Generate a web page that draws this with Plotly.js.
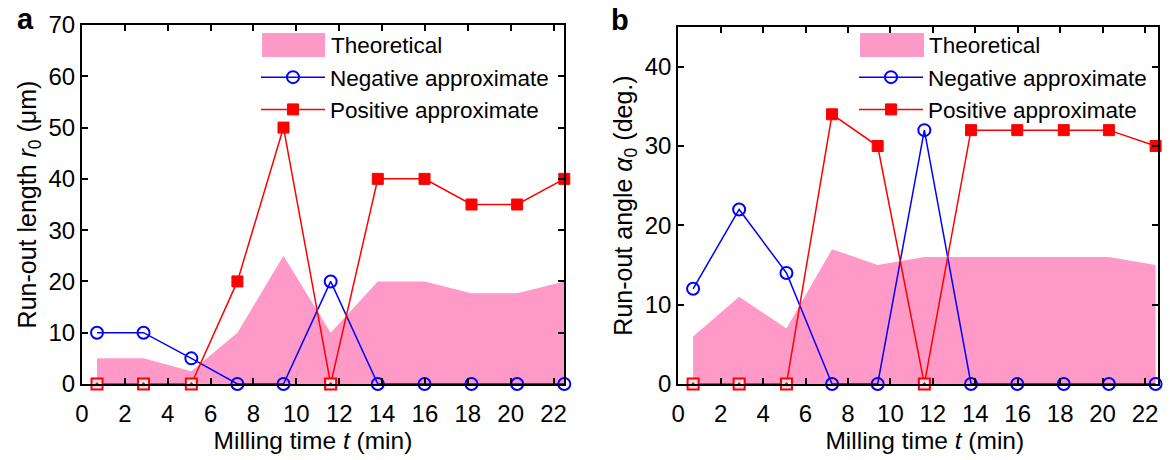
<!DOCTYPE html>
<html>
<head>
<meta charset="utf-8">
<script src="https://cdn.plot.ly/plotly-3.0.1.min.js"></script>
<style>html,body{margin:0;padding:0;background:#fff;}#chart{width:1170px;height:460px;}</style>
</head>
<body>
<div id="chart"></div>
<script>
// Milling time t (min)
const millingTime = [0.7, 2.87, 5.1, 7.25, 9.4, 11.6, 13.8, 15.98, 18.17, 20.3, 22.5];

// Panel a: run-out length r0 (μm)
const lengthTheoretical = [5, 5, 2.5, 10, 25, 10, 20, 20, 17.7, 17.7, 20];
const lengthNegative    = [10, 10, 5, 0, 0, 20, 0, 0, 0, 0, 0];
const lengthPositive    = [0, 0, 0, 20, 50, 0, 40, 40, 35, 35, 40];

// Panel b: run-out angle α0 (deg.)
const angleTheoretical = [6, 11, 7, 17, 15, 16, 16, 16, 16, 16, 15];
const angleNegative    = [12, 22, 14, 0, 0, 32, 0, 0, 0, 0, 0];
const anglePositive    = [0, 0, 0, 34, 30, 0, 32, 32, 32, 32, 30];

const xTicks = [0, 2, 4, 6, 8, 10, 12, 14, 16, 18, 20, 22];
const lengthTicks = [0, 10, 20, 30, 40, 50, 60, 70];
const angleTicks = [0, 10, 20, 30, 40];

const seriesNames = ['Theoretical', 'Negative approximate', 'Positive approximate'];
const panelLetters = ['a', 'b'];

const FONT = 'Liberation Sans, Arial, sans-serif';
const FS = 24;
const PINK = '#FF99C8';
const BLUE = '#0000FF';
const RED = '#FF0000';

function panelTraces(theo, neg, pos, xa, ya, legendId) {
  const zx = [], zy = [];
  pos.forEach((v, i) => { if (v === 0) { zx.push(millingTime[i]); zy.push(v); } });
  return [
    {
      x: millingTime, y: theo, xaxis: xa, yaxis: ya, showlegend: false,
      name: seriesNames[0], type: 'scatter', mode: 'lines',
      fill: 'tozeroy', fillcolor: PINK, line: {width: 0, color: PINK}
    },
    {
      x: millingTime, y: neg, xaxis: xa, yaxis: ya, legend: legendId,
      name: seriesNames[1], type: 'scatter', mode: 'lines+markers', cliponaxis: false,
      line: {color: BLUE, width: 1.5},
      marker: {symbol: 'circle-open', size: 12, color: BLUE, line: {width: 2, color: BLUE}}
    },
    {
      x: millingTime, y: pos, xaxis: xa, yaxis: ya, legend: legendId,
      name: seriesNames[2], type: 'scatter', mode: 'lines+markers', cliponaxis: false,
      line: {color: RED, width: 1.5},
      marker: {symbol: 'square', size: 11, color: RED, line: {width: 1, color: RED}}
    },
    {
      x: zx, y: zy, xaxis: xa, yaxis: ya, showlegend: false,
      type: 'scatter', mode: 'markers', cliponaxis: false, hoverinfo: 'skip',
      marker: {symbol: 'square-dot', size: 11, color: '#FFE0EC', line: {width: 2, color: RED}}
    }
  ];
}

const data = [].concat(
  panelTraces(lengthTheoretical, lengthNegative, lengthPositive, 'x', 'y', 'legend'),
  panelTraces(angleTheoretical, angleNegative, anglePositive, 'x2', 'y2', 'legend2')
);

function axisBase() {
  return {
    showline: true, linecolor: '#000', linewidth: 2, mirror: 'ticks',
    ticks: 'inside', ticklen: 6, tickwidth: 2, tickcolor: '#000',
    showgrid: false, zeroline: false,
    tickfont: {family: FONT, size: FS, color: '#000'}
  };
}

const xTitle = 'Milling time <i>t</i> (min)';

function legendCfg(px) {
  return {
    x: px / 1170, y: 0.9136, xanchor: 'left', yanchor: 'top',
    bgcolor: 'rgba(0,0,0,0)', borderwidth: 0,
    font: {family: FONT, size: 22.5, color: '#000'},
    itemwidth: 64, tracegroupgap: 0
  };
}

// Legend swatch for the filled "Theoretical" series (pixel -> paper helpers)
function swatch(pxLeft, pxRight) {
  return {
    type: 'rect', xref: 'paper', yref: 'paper', layer: 'above',
    x0: pxLeft / 1170, x1: pxRight / 1170,
    y0: (384 - 57) / 359, y1: (384 - 33) / 359,
    fillcolor: PINK, line: {width: 0}
  };
}
function swatchText(pxLeft) {
  return {
    text: seriesNames[0], xref: 'paper', yref: 'paper',
    x: pxLeft / 1170, y: (384 - 45) / 359, xanchor: 'left', yanchor: 'middle',
    showarrow: false, font: {family: FONT, size: 22.5, color: '#000'}
  };
}

const layout = {
  width: 1170, height: 460,
  margin: {l: 0, r: 0, t: 25, b: 76},
  paper_bgcolor: '#fff', plot_bgcolor: '#fff',
  font: {family: FONT, size: FS, color: '#000'},
  showlegend: true,
  xaxis: Object.assign(axisBase(), {
    domain: [0.0701, 0.4823], range: [0, 22.5], anchor: 'y',
    tickvals: xTicks, ticklabelstandoff: 7,
    title: {text: xTitle + '&nbsp;&nbsp;&nbsp;', font: {family: FONT, size: 24.5}, standoff: 0}
  }),
  yaxis: Object.assign(axisBase(), {
    domain: [0, 1], range: [0, 70], anchor: 'x',
    tickvals: lengthTicks,
    title: {text: 'Run-out length <i>r</i><sub>0</sub> (μm)', font: {family: FONT, size: 25}, standoff: 5}
  }),
  xaxis2: Object.assign(axisBase(), {
    domain: [0.5797, 0.9895], range: [0, 22.6], anchor: 'y2',
    tickvals: xTicks, ticklabelstandoff: 7,
    title: {text: '&nbsp;&nbsp;' + xTitle, font: {family: FONT, size: 24.5}, standoff: 0}
  }),
  yaxis2: Object.assign(axisBase(), {
    domain: [0, 0.9944], range: [0, 45], anchor: 'x2',
    tickvals: angleTicks,
    title: {text: 'Run-out angle <i>α</i><sub>0</sub> (deg.)', font: {family: FONT, size: 25}, standoff: 5}
  }),
  legend: legendCfg(256),
  legend2: legendCfg(854),
  shapes: [swatch(262, 325), swatch(860, 924)],
  annotations: [
    swatchText(329), swatchText(927),
    {text: '<b>' + panelLetters[0] + '</b>', xref: 'paper', yref: 'paper', x: 25/1170, y: 1.017,
     xanchor: 'center', yanchor: 'middle', showarrow: false,
     font: {family: FONT, size: 29, color: '#000'}},
    {text: '<b>' + panelLetters[1] + '</b>', xref: 'paper', yref: 'paper', x: 620/1170, y: 1.013,
     xanchor: 'center', yanchor: 'middle', showarrow: false,
     font: {family: FONT, size: 29, color: '#000'}}
  ]
};

Plotly.newPlot('chart', data, layout, {staticPlot: true, displayModeBar: false});
</script>
</body>
</html>
